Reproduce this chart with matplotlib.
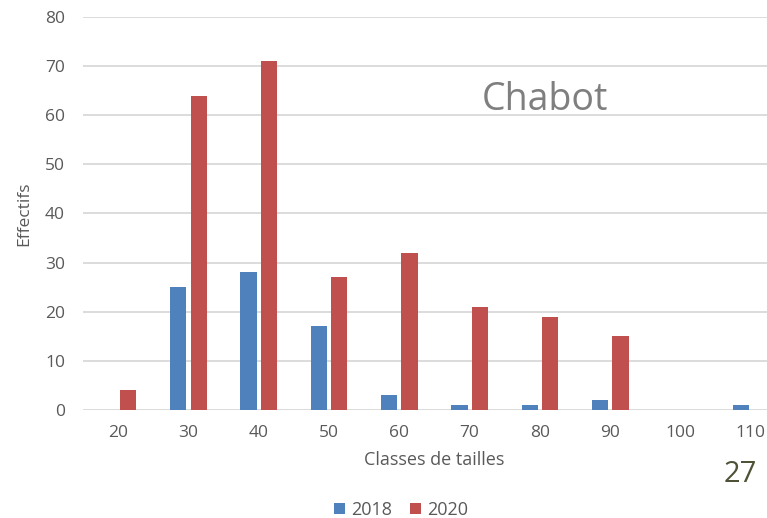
import numpy as np
import matplotlib
matplotlib.use('Agg')
import matplotlib.pyplot as plt

# données
classes = ['20', '30', '40', '50', '60', '70', '80', '90', '100', '110']
effectifs_2018 = [0, 25, 28, 17, 3, 1, 1, 2, 0, 1]
effectifs_2020 = [4, 64, 71, 27, 32, 21, 19, 15, 0, 0]

plt.rcParams['font.family'] = ['Open Sans', 'DejaVu Sans']

fig = plt.figure(figsize=(7.67, 5.18), dpi=100)
ax = fig.add_axes([83 / 767, 108 / 518, 703 / 767, 393 / 518])

x = np.arange(len(classes))
w = 0.23
ax.bar(x - 0.145, effectifs_2018, w, color='#4F81BD', label='2018', zorder=3)
ax.bar(x + 0.145, effectifs_2020, w, color='#C0504D', label='2020', zorder=3)

ax.set_xlim(-0.5, len(classes) - 0.5)
ax.set_ylim(0, 80)
ax.set_yticks(range(0, 81, 10))
ax.set_xticks(x)
ax.set_xticklabels(classes)
ax.grid(axis='y', color='#D9D9D9', linewidth=1.3, zorder=0)
for s in ax.spines.values():
    s.set_visible(False)
ax.tick_params(length=0, colors='#595959', labelsize=12.5)
ax.tick_params(axis='x', pad=11)
ax.tick_params(axis='y', pad=13)

ax.set_xlabel('Classes de tailles', color='#595959', fontsize=13, labelpad=7)
ax.set_ylabel('Effectifs', color='#595959', fontsize=12.5, labelpad=9)

fig.text(545 / 767, 1 - 100 / 518, 'Chabot', fontsize=27, color='#7F7F7F',
         ha='center', va='center')
fig.text(740 / 767, 1 - 475 / 518, '27', fontsize=21, color='#4F5236',
         ha='center', va='center')

fig.legend(loc='center', bbox_to_anchor=(401 / 767, 1 - 510 / 518), ncol=2,
           frameon=False, fontsize=13, handlelength=0.6, handleheight=0.6,
           columnspacing=1.0, handletextpad=0.35, labelcolor='#595959')

plt.savefig('out.png', dpi=100)
